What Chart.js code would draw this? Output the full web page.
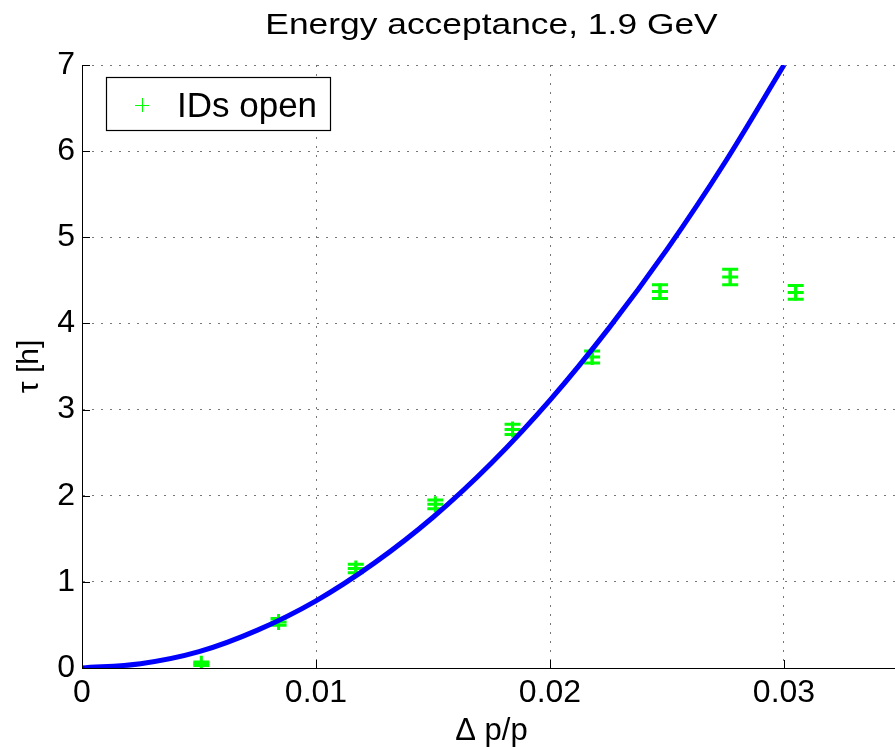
<!DOCTYPE html>
<html lang="en">
<head>
  <meta charset="UTF-8" />
  <title>Energy acceptance, 1.9 GeV</title>
  <script src="https://cdn.jsdelivr.net/npm/chart.js"></script>
  <style>
    html, body { margin: 0; padding: 0; background: #fff; overflow: hidden; }
    canvas { display: block; }
  </style>
</head>
<body>
  <canvas id="accChart" width="901" height="747"></canvas>

  <script>
    const titleText = 'Energy acceptance, 1.9 GeV';
    const xTicks = [0, 0.01, 0.02, 0.03];
    const yTicks = [0, 1, 2, 3, 4, 5, 6, 7];

    // measured lifetime, IDs open
    const measDp = [0.0051, 0.0084, 0.0117, 0.0151, 0.0184, 0.0218, 0.0247, 0.0277, 0.0305];
    const measTau = [0.05, 0.535, 1.155, 1.90, 2.77, 3.61, 4.37, 4.54, 4.36];
    const measErr = [0.02, 0.04, 0.05, 0.05, 0.06, 0.07, 0.08, 0.09, 0.08];

    // fitted curve
    const fitDp = [0, 0.0025, 0.005, 0.0075, 0.01, 0.0125, 0.015, 0.0175, 0.02, 0.0225, 0.025, 0.0275, 0.03];
    const fitTau = [0, 0.05, 0.19, 0.44, 0.78, 1.22, 1.75, 2.38, 3.11, 3.94, 4.86, 5.88, 7.0];

    const font = 'Liberation Sans, Arial, Helvetica, sans-serif';
    const green = '#00ff00';

    const errorBars = {
      id: 'errorBars',
      beforeDatasetsDraw(chart) {
        const { ctx, scales: { x, y } } = chart;
        ctx.save();
        ctx.strokeStyle = green;
        ctx.lineWidth = 3;
        measDp.forEach((dp, i) => {
          const px = x.getPixelForValue(dp);
          const top = y.getPixelForValue(measTau[i] + measErr[i]);
          const bot = y.getPixelForValue(measTau[i] - measErr[i]);
          ctx.beginPath();
          ctx.moveTo(px, top); ctx.lineTo(px, bot);
          ctx.moveTo(px - 8, top); ctx.lineTo(px + 8, top);
          ctx.moveTo(px - 8, bot); ctx.lineTo(px + 8, bot);
          ctx.stroke();
        });
        ctx.restore();
      }
    };

    const decorations = {
      id: 'decorations',
      afterDraw(chart) {
        const { ctx, chartArea: a, scales: { x, y } } = chart;
        ctx.save();

        // inward ticks
        ctx.strokeStyle = '#000';
        ctx.lineWidth = 1;
        ctx.beginPath();
        xTicks.forEach(v => {
          const px = Math.round(x.getPixelForValue(v)) + 0.5;
          ctx.moveTo(px, a.bottom); ctx.lineTo(px, a.bottom - 8);
        });
        yTicks.forEach(v => {
          const py = Math.round(y.getPixelForValue(v)) + 0.5;
          ctx.moveTo(a.left, py); ctx.lineTo(a.left + 8, py);
        });
        ctx.stroke();

        // title (source font is wide)
        ctx.fillStyle = '#000';
        ctx.font = '29px ' + font;
        ctx.textAlign = 'center';
        ctx.textBaseline = 'alphabetic';
        ctx.translate((a.left + a.right) / 2, 34);
        ctx.scale(1.22, 1);
        ctx.fillText(titleText, 0, 0);
        ctx.setTransform(1, 0, 0, 1, 0, 0);

        // legend
        ctx.fillStyle = '#fff';
        ctx.fillRect(106, 77, 224, 53);
        ctx.strokeStyle = '#000';
        ctx.lineWidth = 1.2;
        ctx.strokeRect(106.5, 77.5, 224, 53);
        ctx.strokeStyle = green;
        ctx.lineWidth = 1;
        ctx.beginPath();
        ctx.moveTo(135, 105.5); ctx.lineTo(149, 105.5);
        ctx.moveTo(142.5, 98); ctx.lineTo(142.5, 112);
        ctx.stroke();
        ctx.fillStyle = '#000';
        ctx.font = '35px ' + font;
        ctx.textAlign = 'left';
        ctx.fillText(chart.data.datasets[1].label, 177, 117);

        ctx.restore();
      }
    };

    const ctx = document.getElementById('accChart').getContext('2d');
    new Chart(ctx, {
      type: 'scatter',
      data: {
        datasets: [{
          label: 'fit',
          data: fitDp.map((v, i) => ({ x: v, y: fitTau[i] })),
          showLine: true,
          borderColor: '#0000ff',
          borderWidth: 5,
          pointRadius: 0,
          cubicInterpolationMode: 'monotone'
        }, {
          label: 'IDs open',
          data: measDp.map((v, i) => ({ x: v, y: measTau[i] })),
          pointStyle: 'cross',
          pointRadius: 8,
          borderColor: green,
          backgroundColor: green,
          borderWidth: 3
        }]
      },
      options: {
        responsive: false,
        animation: false,
        devicePixelRatio: 1,
        layout: { autoPadding: false, padding: { top: 65, left: 0, right: 0, bottom: 0 } },
        plugins: {
          legend: { display: false },
          tooltip: { enabled: false }
        },
        scales: {
          x: {
            type: 'linear',
            min: 0,
            max: 0.035,
            afterBuildTicks: s => { s.ticks = xTicks.map(v => ({ value: v })); },
            afterFit: s => { s.height = 79; },
            ticks: {
              color: '#000',
              font: { family: font, size: 32 },
              padding: 6,
              maxRotation: 0,
              callback: v => String(v)
            },
            grid: { color: '#777', lineWidth: 1, drawTicks: false },
            border: { color: '#000', width: 1, dash: [2, 7] },
            title: {
              display: true,
              text: 'Δ p/p',
              color: '#000',
              font: { family: font, size: 31, lineHeight: 1.0 },
              padding: { top: 0, bottom: 0 }
            }
          },
          y: {
            min: 0,
            max: 7,
            afterBuildTicks: s => { s.ticks = yTicks.map(v => ({ value: v })); },
            afterFit: s => { s.width = 82; },
            ticks: {
              color: '#000',
              font: { family: font, size: 32 },
              padding: 7
            },
            grid: { color: '#777', lineWidth: 1, drawTicks: false },
            border: { color: '#000', width: 1, dash: [2, 7] },
            title: {
              display: true,
              text: 'τ [h]',
              color: '#000',
              font: { family: font, size: 30 },
              padding: { top: 12, bottom: 0 }
            }
          }
        }
      },
      plugins: [errorBars, decorations]
    });
  </script>
</body>
</html>
